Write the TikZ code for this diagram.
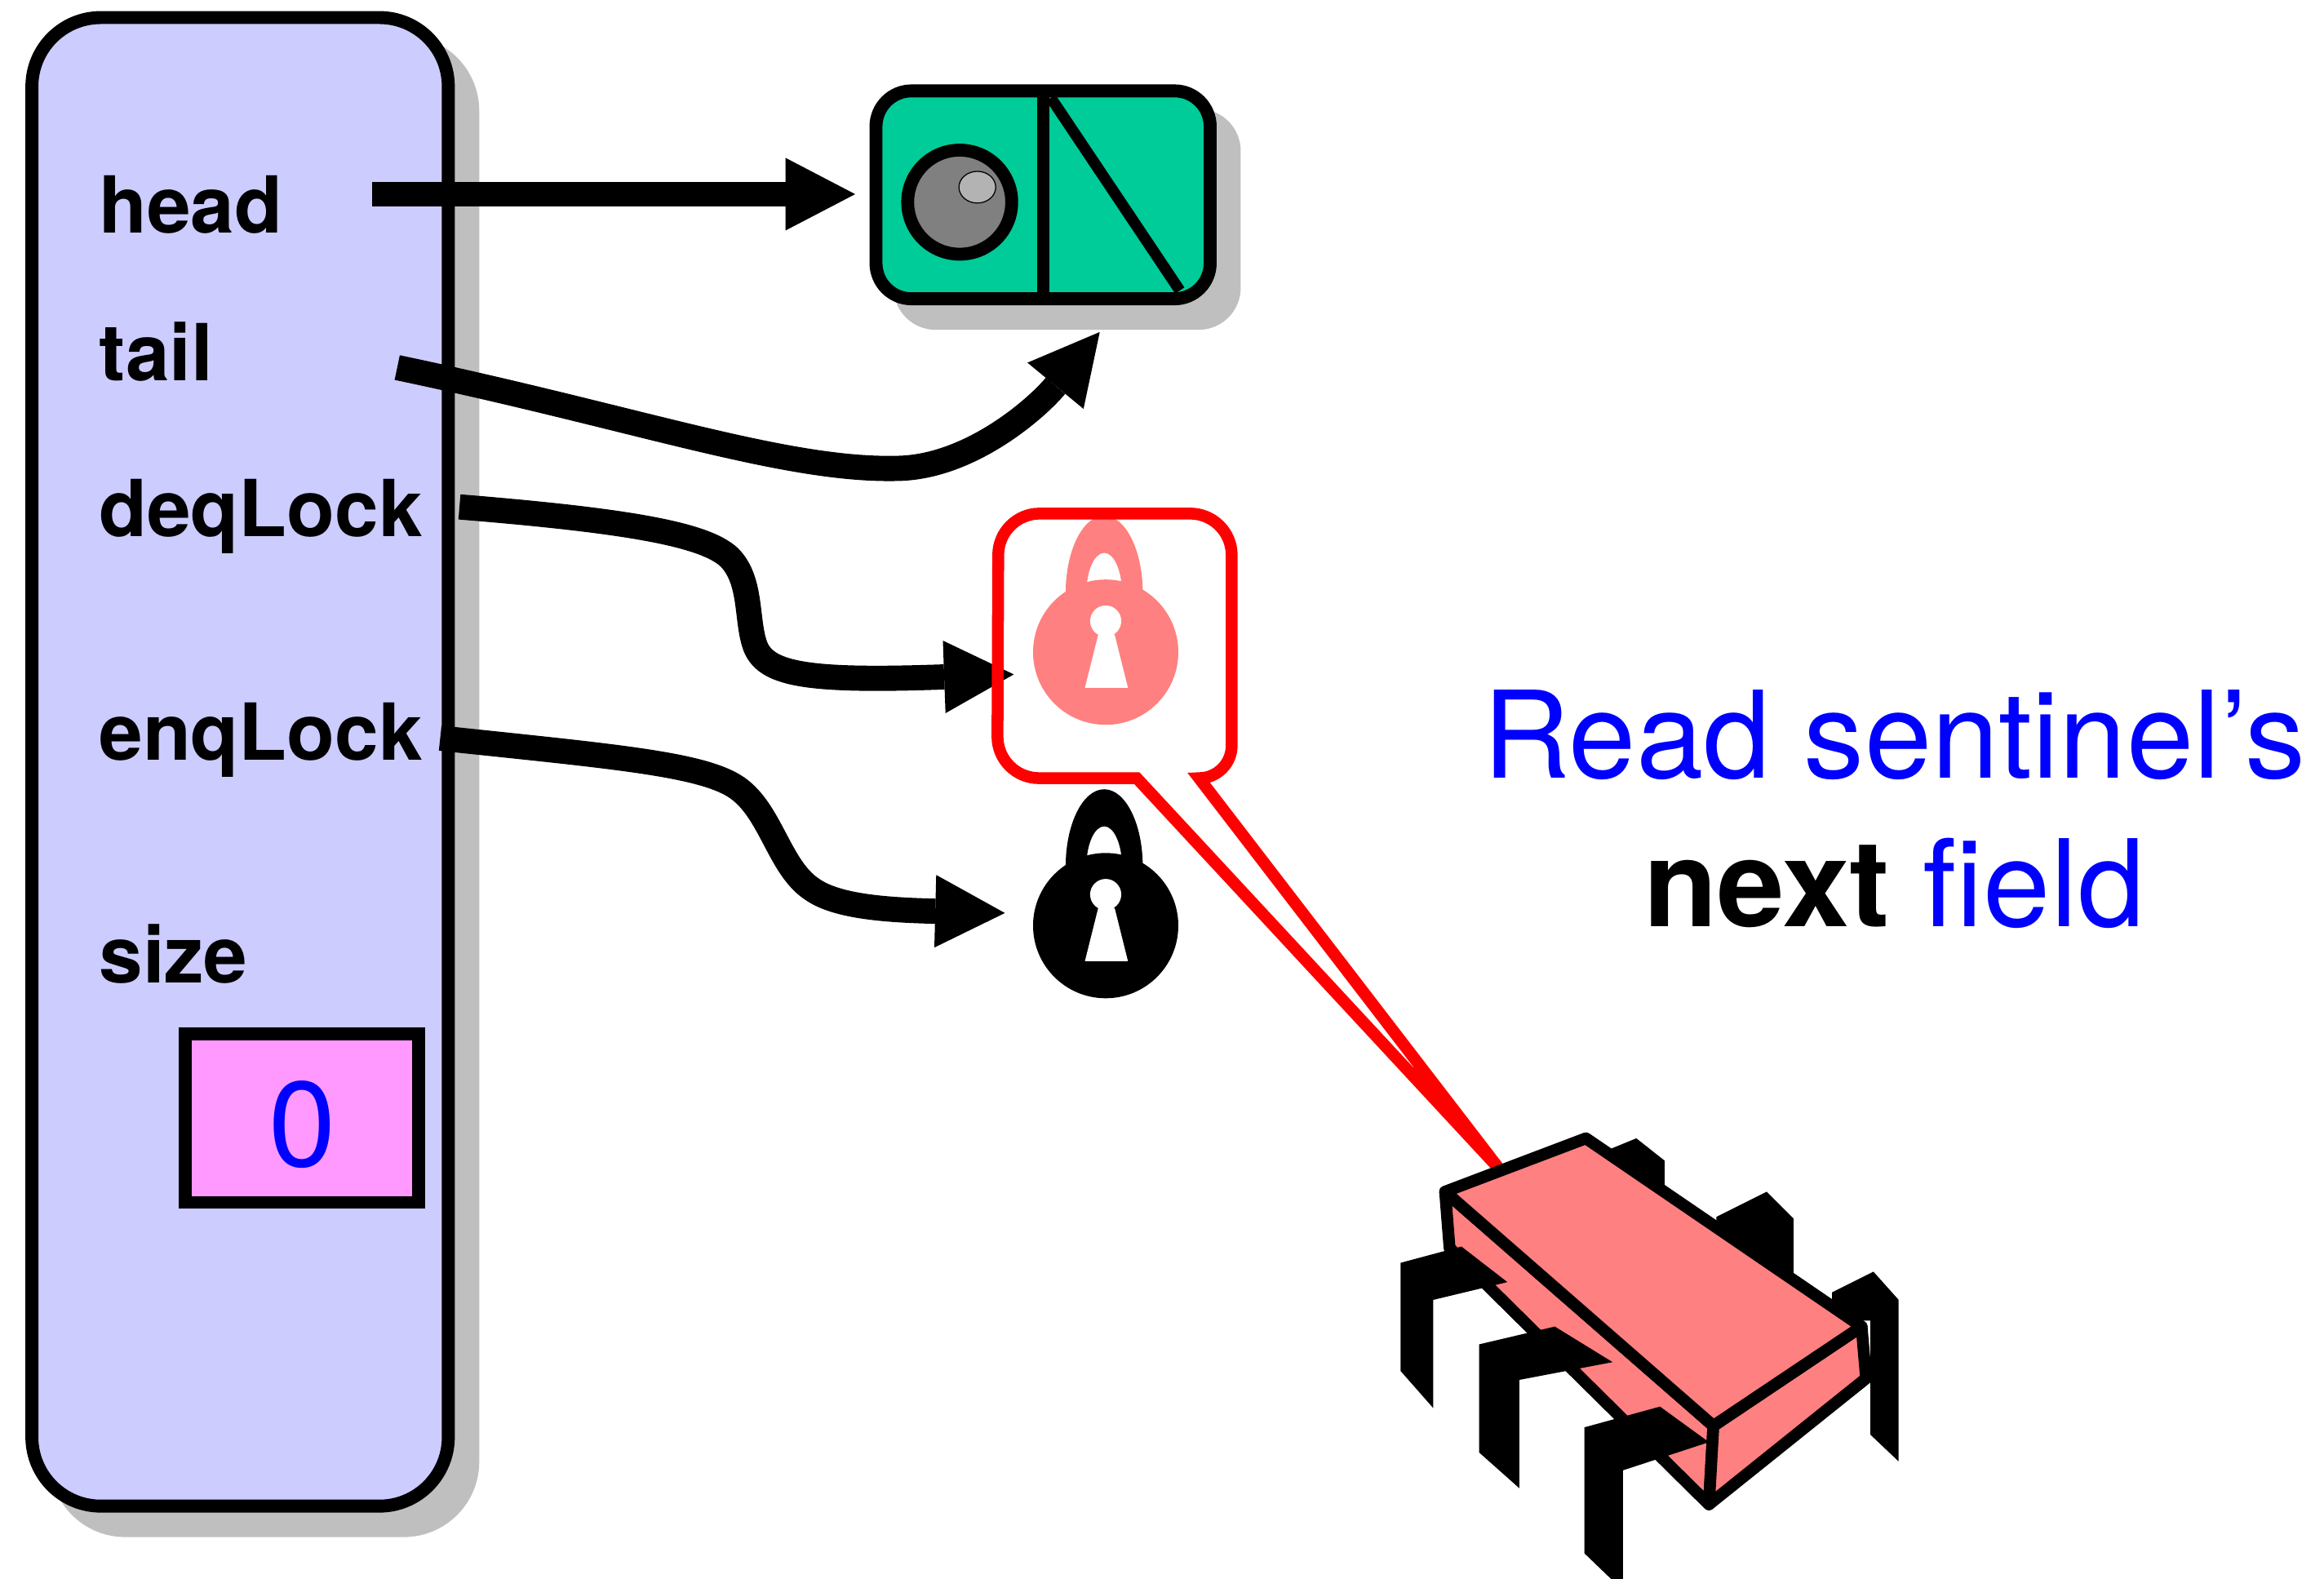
\documentclass[tikz,border=0pt]{standalone}
\usepackage{fontspec}
\setmainfont{TeX Gyre Heros}
\usetikzlibrary{arrows.meta}

\definecolor{lavender}{HTML}{CCCCFF}
\definecolor{nodeteal}{HTML}{00CC99}
\definecolor{shadowgray}{HTML}{BFBFBF}
\definecolor{lockpink}{HTML}{FF8080}
\definecolor{sizepink}{HTML}{FF99FF}
\definecolor{ballgray}{HTML}{808080}
\definecolor{shinegray}{HTML}{B3B3B3}
\definecolor{pureblue}{HTML}{0000FF}
\definecolor{purered}{HTML}{FF0000}

\tikzset{
  % object frame and its drop shadow
  objframe/.style={draw=black, fill=lavender, line width=0.175cm,
    rounded corners=0.93cm, inner sep=0pt, outer sep=0pt},
  objshadow/.style={draw=shadowgray, fill=shadowgray, line width=0.175cm,
    rounded corners=0.93cm, inner sep=0pt, outer sep=0pt},
  % list node
  listnode/.style={draw=black, fill=nodeteal, line width=0.175cm,
    rounded corners=0.48cm, inner sep=0pt, outer sep=0pt,
    minimum width=4.51cm, minimum height=2.806cm},
  listshadow/.style={draw=shadowgray, fill=shadowgray, line width=0.175cm,
    rounded corners=0.48cm, inner sep=0pt, outer sep=0pt,
    minimum width=4.51cm, minimum height=2.806cm},
  % field labels
  fieldlabel/.style={anchor=base west, inner sep=0pt,
    font=\fontsize{30.2}{36}\selectfont\bfseries},
  bigtext/.style={anchor=base, inner sep=0pt,
    font=\fontsize{46.4}{55}\selectfont, text=pureblue},
  % thick pointers
  pointer/.style={line width=0.34cm,
    -{Triangle[length=0.94cm, width=0.98cm, line width'=0pt]}},
  sizecell/.style={draw=black, fill=sizepink, line width=0.174cm,
    inner sep=0pt, outer sep=0pt, minimum width=3.148cm, minimum height=2.27cm},
  bubble/.style={draw=purered, line width=0.16cm},
  chipface/.style={draw=black, fill=lockpink, line width=0.16cm, line join=round},
  chipleg/.style={fill=black},
  pics/padlock/.style={code={
    \fill[#1, even odd rule] (-1,-40) ellipse [x radius=26, y radius=52]
                             (-1,-40) ellipse [x radius=12, y radius=27];
    \fill[#1] (0,0) circle [radius=49];
    \fill[white] (0,-21) circle [radius=10.5];
    \fill[white] (-5,-12) -- (6,-12) -- (15,24) -- (-14,24) -- cycle;
  }}
}

\begin{document}
\begin{tikzpicture}[x=0.02cm, y=-0.02cm]
\useasboundingbox (0,0) rectangle (1568,1065);
\fill[white] (0,0) rectangle (1568,1065);

\begin{scope}
\clip (0,0) rectangle (1568,1065);

% ---- queue object ----
\node[objshadow, minimum width=5.62cm, minimum height=20.09cm] (objshade) at (178.5,530.5) {};
\node[objframe, minimum width=5.62cm, minimum height=20.09cm] (obj) at (162,514) {};

\node[fieldlabel] (head) at (66.5,157) {head};
\node[fieldlabel] (tail) at (66.5,257) {tail};
\node[fieldlabel] (deq) at (66.5,362) {deqLock};
\node[fieldlabel] (enq) at (66.5,513) {enqLock};
\node[fieldlabel] (size) at (66.5,663) {size};

\node[sizecell] (sizebox) at (203.7,754.5) {};
\node[inner sep=0pt, anchor=base, font=\fontsize{46.4}{55}\selectfont, text=pureblue]
  (zero) at (204,787) {0};

% ---- sentinel node ----
\node[listshadow] (nodeshade) at (720,148) {};
\node[listnode] (sentinel) at (703.75,131.45) {};
\draw[line width=0.17cm] (703.8,61.3) -- (703.8,201.6);
\draw[line width=0.15cm] (709,66) -- (796,196);
\draw[line width=0.174cm, fill=ballgray] (647.5,136.4) circle [radius=35.1];
\draw[line width=0.4pt, fill=shinegray] (659.4,126.3) ellipse [x radius=12.4, y radius=10.7];

% ---- padlocks ----
\pic (lockdeq) at (746,440) {padlock=lockpink};
\pic (lockenq) at (746,624.5) {padlock=black};

% ---- pointers ----
\coordinate (hs) at (251,131);
\coordinate (he) at (577,131);
\coordinate (ts) at (268,248);
\coordinate (tm) at (606,316);
\coordinate (te) at (742,224);
\coordinate (ds) at (310,342);
\coordinate (de) at (684,455);
\coordinate (es) at (297,498);
\coordinate (ee) at (678,616);

\draw[pointer] (hs) -- (he);
\draw[pointer] (ts) .. controls (430,282) and (530,318) .. (tm)
                    .. controls (655,315) and (700,275) .. (te);
\draw[pointer] (ds) .. controls (420,351) and (475,360) .. (492,376)
                    .. controls (508,392) and (503,420) .. (510,437)
                    .. controls (518,455) and (545,460) .. (de);
\draw[pointer] (es) .. controls (410,510) and (470,515) .. (495,530)
                    .. controls (520,545) and (525,585) .. (548,600)
                    .. controls (565,612) and (600,614) .. (ee);

% ---- speech bubble from the processor ----
\coordinate (btip) at (1011,788);
\draw[bubble] (btip) -- (767,525) -- (701,525)
  arc [start angle=90, end angle=180, radius=28] -- (673.5,374.5)
  arc [start angle=180, end angle=270, radius=28] -- (803,346.5)
  arc [start angle=270, end angle=360, radius=28] -- (831,503)
  arc [start angle=0, end angle=90, radius=22] -- cycle;

% ---- processor ----
% legs behind the body
\fill[chipleg] (1087,775) -- (1104,768) -- (1123,783) -- (1123,807) -- (1085,807) -- cycle;
\fill[chipleg] (1158,821) -- (1192,804) -- (1210,822) -- (1210,870) -- (1158,870) -- cycle;
\fill[chipleg] (1236,872) -- (1264,858) -- (1281,877) -- (1281,986) -- (1262,968)
               -- (1262,891) -- (1236,891) -- cycle;
% body
\coordinate (ctl) at (975,804);
\coordinate (ctt) at (1070,768);
\coordinate (ctr) at (1256,895);
\coordinate (ctf) at (1156,962);
\coordinate (clb) at (978,842);
\coordinate (cfb) at (1153,1015);
\coordinate (crb) at (1259,930);
\draw[chipface] (ctl) -- (ctf) -- (cfb) -- (clb) -- cycle;
\draw[chipface] (ctf) -- (ctr) -- (crb) -- (cfb) -- cycle;
\draw[chipface] (ctl) -- (ctt) -- (ctr) -- (ctf) -- cycle;
% legs in front
\fill[chipleg] (945,852) -- (986,841) -- (1017,865) -- (967,877) -- (967,950) -- (945,925) -- cycle;
\fill[chipleg] (998,907) -- (1049,895) -- (1088,919) -- (1025,931) -- (1025,1004) -- (998,980) -- cycle;
\fill[chipleg] (1069,963) -- (1120,949) -- (1153,973) -- (1095,992) -- (1095,1073) -- (1069,1048) -- cycle;
\end{scope}

% ---- caption ----
\node[bigtext] (cap1) at (1278,525) {Read sentinel’s};
\node[bigtext] (cap2) at (1278,625) {{\bfseries\color{black}next} field};

\end{tikzpicture}
\end{document}
